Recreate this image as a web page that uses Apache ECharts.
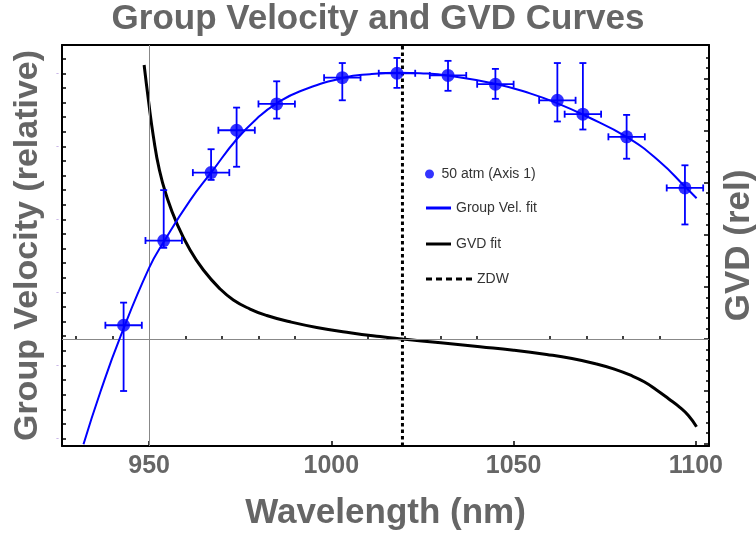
<!DOCTYPE html>
<html><head><meta charset="utf-8">
<script src="https://cdn.jsdelivr.net/npm/echarts@6/dist/echarts.min.js"></script>
<style>html,body{margin:0;padding:0;background:#fff}#c{width:756px;height:535px}</style>
</head><body><div id="c"></div>
<script>
// ---- data ----
const wavelength = [943, 954, 967, 974, 985, 1003, 1018, 1032, 1045, 1062, 1069, 1081, 1097];
const groupVel   = [0.9655, 0.9771, 0.9864, 0.9922, 0.9958, 0.9994, 1.0000, 0.9997, 0.9985, 0.9963, 0.9944, 0.9913, 0.9843];
const gvHigh     = [0.9686, 0.9840, 0.9896, 0.9953, 0.9989, 1.0014, 1.0021, 1.0017, 1.0006, 1.0014, 1.0014, 0.9943, 0.9874];
const gvLow      = [0.9565, 0.9761, 0.9854, 0.9872, 0.9938, 0.9963, 0.9980, 0.9976, 0.9965, 0.9934, 0.9923, 0.9883, 0.9793];
const wlErr      = [5, 5, 5, 5, 5, 5, 5, 5, 5, 5, 5, 5, 5];

const fitWl  = [932.0, 936.6, 942.1, 950.0, 954.2, 961.2, 967.2, 974.2, 980.4, 984.8, 991.4, 1003.3, 1010.6, 1018.8, 1024.3, 1032.3, 1045.2, 1054.5, 1062.2, 1069.4, 1081.2, 1090.1, 1097.2, 1100.2];
const fitVel = [0.94921, 0.95633, 0.96390, 0.97335, 0.97707, 0.98256, 0.98652, 0.99107, 0.99418, 0.99582, 0.99754, 0.99938, 0.99988, 1.00007, 1.00000, 0.99967, 0.99854, 0.99725, 0.99585, 0.99425, 0.99122, 0.98788, 0.98439, 0.98289];

const gvdWl  = [948.63, 949.81, 951.18, 952.82, 954.85, 957.60, 961.24, 964.89, 969.47, 973.11, 977.69, 982.27, 988.66, 995.98, 1005.11, 1013.34, 1019.56, 1030.0, 1040.76, 1050.0, 1059.05, 1066.0, 1072.76, 1077.5, 1081.89, 1085.8, 1089.21, 1092.5, 1095.60, 1098.0, 1100.18];
const gvdVal = [5.255, 4.584, 3.880, 3.241, 2.729, 2.219, 1.707, 1.323, 0.960, 0.750, 0.575, 0.450, 0.330, 0.222, 0.120, 0.046, 0.0, -0.072, -0.148, -0.215, -0.297, -0.375, -0.479, -0.575, -0.690, -0.820, -0.978, -1.145, -1.310, -1.470, -1.682];

const zdw = 1019.5;
const refWl = 950;

const xMajor = [950, 1000, 1050, 1100];
const xMinor = [930, 940, 960, 970, 980, 990, 1010, 1020, 1030, 1040, 1060, 1070, 1080, 1090];
const yLeftMajor = [0.95, 0.96, 0.97, 0.98, 0.99, 1.00];
const yLeftMinor = [0.952, 0.954, 0.956, 0.958, 0.962, 0.964, 0.966, 0.968, 0.972, 0.974, 0.976, 0.978, 0.982, 0.984, 0.986, 0.988, 0.992, 0.994, 0.996, 0.998, 1.002];
const yRightMajor = [-2, -1, 0, 1, 2, 3, 4, 5];
const yRightMinor = [-1.8, -1.6, -1.4, -1.2, -0.8, -0.6, -0.4, -0.2, 0.2, 0.4, 0.6, 0.8, 1.2, 1.4, 1.6, 1.8, 2.2, 2.4, 2.6, 2.8, 3.2, 3.4, 3.6, 3.8, 4.2, 4.4, 4.6, 4.8, 5.2, 5.4];

// ---- ranges ----
const X_MIN = 926.1, X_MAX = 1103.6;
const YL_MIN = 0.94897, YL_MAX = 1.00387;
const YR_MIN = -2.052, YR_MAX = 5.639;

const FONT = 'Liberation Sans, Arial, sans-serif';
const GRAY = '#666666';
const BLUE = '#0000ff';

const points = wavelength.map((w, i) => [w, groupVel[i]]);
const errData = wavelength.map((w, i) => [w, groupVel[i], gvLow[i], gvHigh[i], wlErr[i]]);
const fitData = fitWl.map((w, i) => [w, fitVel[i]]);
const gvdData = gvdWl.map((w, i) => [w, gvdVal[i]]);

function tickAxisBase(extra) {
  return Object.assign({
    type: 'value', splitLine: { show: false },
    axisLine: { show: false },
    axisLabel: { show: false }
  }, extra);
}

const DASH_ICON = 'path://M0,0h6v3h-6z M10,0h6v3h-6z M20,0h6v3h-6z M30,0h6v3h-6z M40,0h6v3h-6z';
const legendText = { fontFamily: FONT, fontSize: 14, color: '#333' };

const chart = echarts.init(document.getElementById('c'), null, { renderer: 'canvas' });
chart.setOption({
  animation: false,
  backgroundColor: '#fff',
  textStyle: { fontFamily: FONT },
  title: {
    text: 'Group Velocity and GVD Curves',
    left: 'center', top: 2, padding: 0,
    textStyle: { fontFamily: FONT, fontSize: 35, fontWeight: 'bold', color: GRAY }
  },
  grid: { left: 62, top: 45, right: 47, bottom: 89, containLabel: false, outerBoundsMode: 'none' },
  legend: [
    {
      data: [{ name: '50 atm (Axis 1)', icon: 'circle' }], left: 425, top: 167, padding: 0,
      itemWidth: 14, itemHeight: 9,
      textStyle: legendText
    },
    {
      data: [{ name: 'Group Vel. fit', icon: 'rect' }, { name: 'GVD fit', icon: 'rect' }],
      orient: 'vertical', left: 426, top: 201, padding: 0,
      itemWidth: 25, itemHeight: 3, itemGap: 22,
      textStyle: legendText
    },
    {
      data: [{ name: 'ZDW', icon: DASH_ICON }], left: 426, top: 272, padding: 0,
      itemWidth: 46, itemHeight: 3,
      itemStyle: { color: '#000' },
      textStyle: legendText
    }
  ],
  xAxis: [
    {
      type: 'value', min: X_MIN, max: X_MAX, position: 'bottom',
      splitLine: { show: false },
      axisLine: { show: true, onZero: false, lineStyle: { color: '#000', width: 2 } },
      axisTick: { show: true, inside: true, length: 5, customValues: xMajor, lineStyle: { color: '#000', width: 1.5 } },
      axisLabel: { show: true, customValues: xMajor, formatter: v => String(v), margin: 8, fontFamily: FONT, fontSize: 25, fontWeight: 'bold', color: GRAY },
      name: 'Wavelength (nm)', nameLocation: 'middle', nameGap: 50,
      nameTextStyle: { fontFamily: FONT, fontSize: 35, fontWeight: 'bold', color: GRAY }
    },
    tickAxisBase({
      min: X_MIN, max: X_MAX, position: 'bottom',
      axisTick: { show: true, inside: true, length: 3, customValues: xMinor, lineStyle: { color: '#000', width: 1.5 } }
    }),
    {
      type: 'value', min: X_MIN, max: X_MAX, position: 'top',
      splitLine: { show: false },
      axisLine: { show: true, onZero: false, lineStyle: { color: '#000', width: 2 } },
      axisTick: { show: false }, axisLabel: { show: false }
    }
  ],
  yAxis: [
    {
      type: 'value', min: YL_MIN, max: YL_MAX, position: 'left',
      splitLine: { show: false },
      axisLine: { show: true, onZero: false, lineStyle: { color: '#000', width: 2 } },
      axisTick: { show: true, inside: true, length: 4, customValues: yLeftMajor, lineStyle: { color: '#000', width: 1.5 } },
      axisLabel: { show: true, customValues: yLeftMajor, formatter: () => '-', margin: 3, fontSize: 9, color: '#b9a0e0' },
      name: 'Group Velocity (relative)', nameLocation: 'middle', nameRotate: 90, nameGap: 17,
      nameTextStyle: { fontFamily: FONT, fontSize: 34, fontWeight: 'bold', color: GRAY }
    },
    tickAxisBase({
      min: YL_MIN, max: YL_MAX, position: 'left',
      axisTick: { show: true, inside: true, length: 4, customValues: yLeftMinor, lineStyle: { color: '#000', width: 1.5 } }
    }),
    {
      type: 'value', min: YR_MIN, max: YR_MAX, position: 'right',
      splitLine: { show: false },
      axisLine: { show: true, onZero: false, lineStyle: { color: '#000', width: 2 } },
      axisTick: { show: true, inside: true, length: 5, customValues: yRightMajor, lineStyle: { color: '#000', width: 1.5 } },
      axisLabel: { show: false },
      name: 'GVD (rel)', nameLocation: 'middle', nameRotate: 90, nameGap: 13,
      nameTextStyle: { fontFamily: FONT, fontSize: 35, fontWeight: 'bold', color: GRAY }
    },
    tickAxisBase({
      min: YR_MIN, max: YR_MAX, position: 'right',
      axisTick: { show: true, inside: true, length: 3, customValues: yRightMinor, lineStyle: { color: '#000', width: 1.5 } }
    })
  ],
  series: [
    {
      name: 'GVD fit', type: 'line', xAxisIndex: 0, yAxisIndex: 2,
      data: gvdData, smooth: 0.5, symbol: 'none', z: 3,
      lineStyle: { color: '#000', width: 3 }, itemStyle: { color: '#000' },
      markLine: {
        silent: true, symbol: 'none', animation: false,
        label: { show: false },
        lineStyle: { color: '#888', width: 1, type: 'solid' },
        data: [{ xAxis: refWl }, { yAxis: 0 }]
      }
    },
    {
      name: 'ZDW', type: 'line', xAxisIndex: 0, yAxisIndex: 0,
      data: [[zdw, YL_MIN], [zdw, YL_MAX]], symbol: 'none', z: 4,
      lineStyle: { color: '#000', width: 3, type: [3.5, 3] }, itemStyle: { color: '#000' }
    },
    {
      name: 'Group Vel. fit', type: 'line', xAxisIndex: 0, yAxisIndex: 0,
      data: fitData, smooth: 0.5, symbol: 'none', z: 5,
      lineStyle: { color: BLUE, width: 2 }, itemStyle: { color: BLUE }
    },
    {
      name: 'errors', type: 'custom', xAxisIndex: 0, yAxisIndex: 0, z: 6,
      data: errData, encode: { x: 0, y: [1, 2, 3] },
      renderItem: function (params, api) {
        const x = api.value(0), y = api.value(1), lo = api.value(2), hi = api.value(3), xe = api.value(4);
        const pLo = api.coord([x, lo]), pHi = api.coord([x, hi]);
        const pL = api.coord([x - xe, y]), pR = api.coord([x + xe, y]);
        const c = 3.5;
        const st = { stroke: BLUE, lineWidth: 1.8 };
        const L = (x1, y1, x2, y2) => ({ type: 'line', shape: { x1, y1, x2, y2 }, style: st });
        return {
          type: 'group', children: [
            L(pLo[0], pLo[1], pHi[0], pHi[1]),
            L(pLo[0] - c, pLo[1], pLo[0] + c, pLo[1]),
            L(pHi[0] - c, pHi[1], pHi[0] + c, pHi[1]),
            L(pL[0], pL[1], pR[0], pR[1]),
            L(pL[0], pL[1] - c, pL[0], pL[1] + c),
            L(pR[0], pR[1] - c, pR[0], pR[1] + c)
          ]
        };
      }
    },
    {
      name: '50 atm (Axis 1)', type: 'scatter', xAxisIndex: 0, yAxisIndex: 0, z: 7,
      data: points, symbol: 'circle', symbolSize: 13,
      itemStyle: { color: BLUE }
    }
  ]
});
</script></body></html>
